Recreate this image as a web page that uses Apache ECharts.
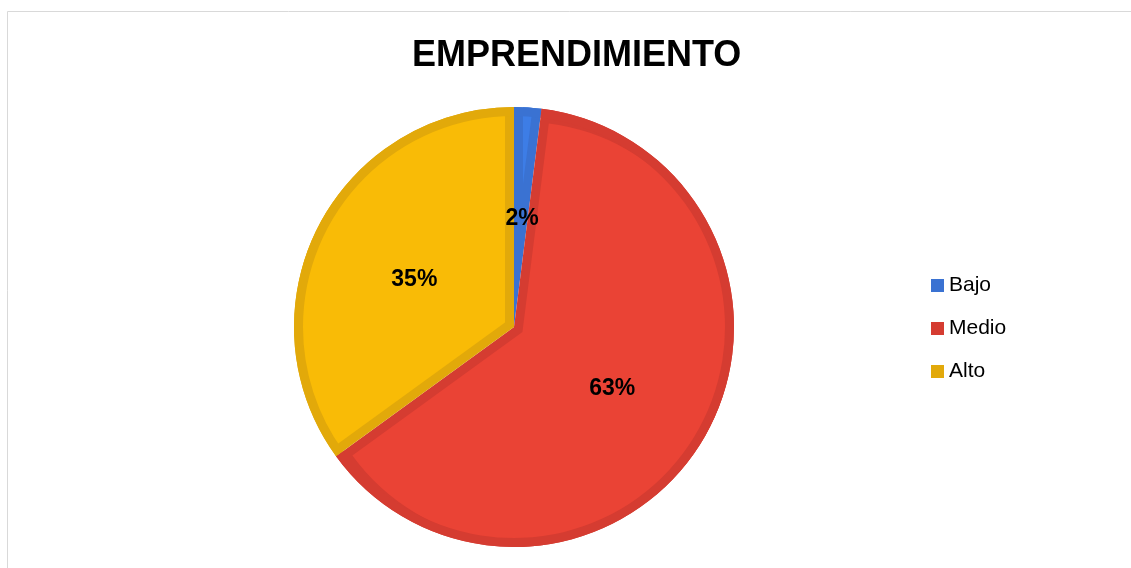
<!DOCTYPE html>
<html>
<head>
<meta charset="utf-8">
<script src="https://cdn.jsdelivr.net/npm/echarts@6/dist/echarts.min.js"></script>
<style>
  html, body { margin: 0; padding: 0; background: #fff; }
  #main { width: 1131px; height: 568px; }
</style>
</head>
<body>
<div id="main"></div>
<script>
// data
var categories = ['Bajo', 'Medio', 'Alto'];
var values = [2, 63, 35];
var fillColors = ['#3D7DE6', '#EA4335', '#F9BB06'];
var edgeColors = ['#3A72D2', '#D53C31', '#E2A90A'];

var chartDom = document.getElementById('main');
var myChart = echarts.init(chartDom);
var option;

var R = 220;       // outer radius
var edge = 9;      // width of the darker rim
var center = [514, 327];
var font = 'Liberation Sans, Arial, sans-serif';
var total = values.reduce(function (a, b) { return a + b; }, 0);

function baseData(colors) {
  return categories.map(function (name, i) {
    return { name: name, value: values[i], itemStyle: { color: colors[i] } };
  });
}

var series = [];

// dark full pie underneath
series.push({
  type: 'pie',
  z: 1,
  radius: R,
  center: center,
  silent: true,
  label: { show: false },
  labelLine: { show: false },
  data: baseData(edgeColors)
});

// one lighter wedge per slice, pushed inwards so the rim stays visible
categories.forEach(function (name, k) {
  var half = Math.PI * values[k] / total;
  var off = edge / Math.sin(half);
  series.push({
    type: 'pie',
    z: 2,
    radius: Math.max(R - off, 1),
    center: center,
    silent: true,
    selectedMode: 'single',
    selectedOffset: off,
    label: { show: false },
    labelLine: { show: false },
    select: { itemStyle: { color: fillColors[k] } },
    data: categories.map(function (n, i) {
      return {
        name: n,
        value: values[i],
        selected: i === k,
        itemStyle: { color: i === k ? fillColors[k] : 'rgba(0,0,0,0)' }
      };
    })
  });
});

// dark rim ring on top
series.push({
  type: 'pie',
  z: 3,
  radius: [R - edge, R],
  center: center,
  silent: true,
  label: { show: false },
  labelLine: { show: false },
  data: baseData(edgeColors)
});

// labels
series.push({
  type: 'pie',
  z: 4,
  radius: R,
  center: center,
  silent: true,
  percentPrecision: 0,
  label: {
    show: true,
    position: 'inside',
    formatter: '{d}%',
    offset: [1, 4],
    color: '#000',
    fontFamily: font,
    fontWeight: 'bold',
    fontSize: 23
  },
  labelLine: { show: false },
  itemStyle: { color: 'rgba(0,0,0,0)' },
  data: categories.map(function (n, i) { return { name: n, value: values[i] }; })
});

option = {
  animation: false,
  backgroundColor: '#fff',
  title: {
    text: 'EMPRENDIMIENTO',
    left: 407,
    top: 33,
    textStyle: {
      fontFamily: font,
      fontWeight: 'bold',
      fontSize: 36,
      color: '#000'
    }
  },
  legend: {
    orient: 'vertical',
    left: 926,
    top: 270,
    icon: 'rect',
    itemWidth: 13,
    itemHeight: 13,
    itemGap: 22,
    selectedMode: false,
    textStyle: { fontFamily: font, fontSize: 21, color: '#000' },
    data: categories.map(function (n, i) {
      return { name: n, itemStyle: { color: edgeColors[i] } };
    })
  },
  graphic: [{
    type: 'rect',
    silent: true,
    shape: { x: 7.5, y: 11.5, width: 1200, height: 700 },
    style: { fill: 'none', stroke: '#D9D9D9', lineWidth: 1 }
  }],
  series: series
};

option && myChart.setOption(option);
</script>
</body>
</html>
